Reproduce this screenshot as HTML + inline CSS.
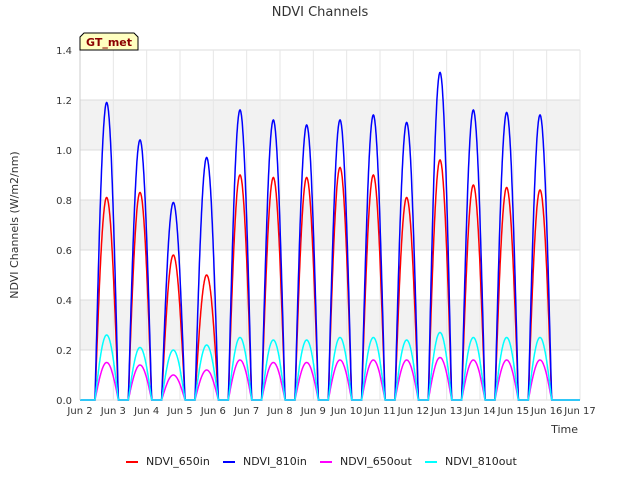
<!DOCTYPE html>
<html><head><meta charset="utf-8"><style>
body{margin:0;background:#fff;font-family:"Liberation Sans","DejaVu Sans",sans-serif}
svg text{font-family:"DejaVu Sans","Liberation Sans",sans-serif}
</style></head><body>
<svg id="c" width="640" height="480" viewBox="0 0 640 480">
<rect width="640" height="480" fill="#fff"/>
<text x="320" y="16" text-anchor="middle" font-size="13" fill="#333">NDVI Channels</text>
<g id="bands"></g><g id="grid"></g><g id="series"></g><g id="axes"></g>
<text transform="translate(18,225) rotate(-90)" text-anchor="middle" font-size="11" fill="#333">NDVI Channels (W/m2/nm)</text>
<text x="578" y="433" text-anchor="end" font-size="11" fill="#333">Time</text>
<g>
<path d="M80,50 L80,37 L84,33 L134,33 L138,37 L138,50 Z" fill="#ffffc0" stroke="#000"/>
<text x="109" y="46" text-anchor="middle" font-size="11" font-weight="bold" fill="#8b0000">GT_met</text></g>
<g id="legend"></g>
</svg>
<script>
const dayLabels=["Jun 2","Jun 3","Jun 4","Jun 5","Jun 6","Jun 7","Jun 8","Jun 9","Jun 10","Jun 11","Jun 12","Jun 13","Jun 14","Jun 15","Jun 16","Jun 17"];
const yTicks=[0,0.2,0.4,0.6,0.8,1.0,1.2,1.4];
const peak650in=[0.81,0.83,0.58,0.50,0.90,0.89,0.89,0.93,0.90,0.81,0.96,0.86,0.85,0.84];
const peak810in=[1.19,1.04,0.79,0.97,1.16,1.12,1.10,1.12,1.14,1.11,1.31,1.16,1.15,1.14];
const peak650out=[0.15,0.14,0.10,0.12,0.16,0.15,0.15,0.16,0.16,0.16,0.17,0.16,0.16,0.16];
const peak810out=[0.26,0.21,0.20,0.22,0.25,0.24,0.24,0.25,0.25,0.24,0.27,0.25,0.25,0.25];
const names=["NDVI_650in","NDVI_810in","NDVI_650out","NDVI_810out"];
const colors=["#ff0000","#0000ff","#ff00ff","#00ffff"];
const NS="http://www.w3.org/2000/svg";
const X0=80,X1=580,Y0=400,Y1=50;
const xs=d=>X0+(d/15)*(X1-X0);
const ys=v=>Y0-(v/1.4)*(Y0-Y1);
function mk(t,a,p){const e=document.createElementNS(NS,t);for(const k in a)e.setAttribute(k,a[k]);p.appendChild(e);return e;}
const bands=document.getElementById('bands'),grid=document.getElementById('grid'),axes=document.getElementById('axes');
mk('rect',{x:X0,y:Y1,width:X1-X0,height:Y0-Y1,fill:'#fff'},bands);
for(let i=1;i<yTicks.length-1;i+=2){
 const b=mk('rect',{x:X0,y:ys(yTicks[i+1]),width:X1-X0,height:ys(yTicks[i])-ys(yTicks[i+1]),fill:'#f2f2f2'},bands);
 
 
}
yTicks.forEach(v=>{
 const l=mk('line',{x1:X0,x2:X1,y1:ys(v),y2:ys(v),stroke:'#dcdcdc'},grid);
 
 
 const t=mk('text',{x:X0-8,y:ys(v)+4,'text-anchor':'end','font-size':'10',fill:'#333'},axes);
 t.textContent=v.toFixed(1);
 
 
});
dayLabels.forEach((s,i)=>{
 const l=mk('line',{x1:xs(i),x2:xs(i),y1:Y1,y2:Y0,stroke:'#e6e6e6'},grid);
 
 
 const t=mk('text',{x:xs(i),y:414,'text-anchor':'middle','font-size':'10',fill:'#333'},axes);
 t.textContent=s;
 
 
});
mk('line',{x1:X0,x2:X0,y1:Y1,y2:Y0,stroke:'#ccc'},axes);
const series=document.getElementById('series');
[peak650in,peak810in,peak650out,peak810out].forEach((pk,si)=>{
 let d='';
 for(let k=0;k<=15*96;k++){
  const t=k/96,day=Math.floor(t),f=t-day;
  let v=0;
  if(day<pk.length&&f>0.45&&f<1.15){v=pk[day]*Math.sin(Math.PI*(f-0.45)/0.7);}
  else if(day>0&&f<0.15&&day-1<pk.length){const g=f+1;v=pk[day-1]*Math.sin(Math.PI*(g-0.45)/0.7);}
  d+=(k?'L':'M')+xs(t).toFixed(1)+','+ys(Math.max(0,v)).toFixed(1);
 }
 const p=mk('path',{d:d,fill:'none',stroke:colors[si],'stroke-width':'1.5'},series);
 
 
});
const lg=document.getElementById('legend');
const lx=[126,223,320,425];
names.forEach((n,i)=>{
 const g=mk('g',{},lg);
 
 
 mk('line',{x1:lx[i],x2:lx[i]+12,y1:462,y2:462,stroke:colors[i],'stroke-width':'2'},g);
 const t=mk('text',{x:lx[i]+20,y:465,'font-size':'11',fill:'#222'},g);
 t.textContent=n;
});
</script>
</body></html>
